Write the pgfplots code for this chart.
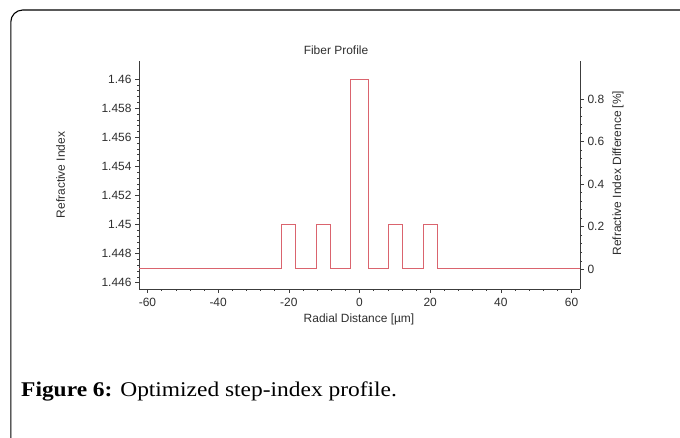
\documentclass[border=0pt]{standalone}
\usepackage{pgfplots}
\pgfplotsset{compat=1.18}
\usepackage{fontspec}
\setmainfont{Liberation Sans}
\newfontfamily\capfont{Liberation Serif}
\definecolor{prof}{RGB}{218,100,110}
\definecolor{axgray}{RGB}{60,60,60}
\begin{document}
\begin{tikzpicture}
\useasboundingbox (0bp,0bp) rectangle (680bp,438bp);
\begin{scope}
\clip (0bp,0bp) rectangle (680bp,438bp);
\draw[line width=1.1bp, rounded corners=12bp] (10.8bp,428bp) rectangle (700bp,-20bp);
\end{scope}
\pgfplotsset{
  myaxis/.style={
    at={(139bp,149bp)}, anchor=south west, scale only axis,
    width=441bp, height=228bp,
    xmin=-62.4, xmax=62.4,
    tick align=outside,
    major tick length=4bp, minor tick length=2bp,
    every tick/.style={color=axgray, line width=0.5bp},
    axis line style={color=axgray, line width=0.6bp, -},
    ticklabel style={font=\fontsize{12}{14}\selectfont, text=black!82},
  }
}
\begin{axis}[myaxis,
  ymin=1.44557, ymax=1.46124,
  axis x line*=bottom, axis y line*=left,
  xtick={-60,-40,-20,0,20,40,60},
  xticklabels={-60,-40,-20,0,20,40,60},
  ytick={1.446,1.448,1.450,1.452,1.454,1.456,1.458,1.460},
  yticklabels={1.446,1.448,1.45,1.452,1.454,1.456,1.458,1.46},
  minor x tick num=4, minor y tick num=4,
  xticklabel style={yshift=-1.5bp},
]
\addplot[prof, line width=0.7bp, line join=miter] coordinates {
(-62.4,1.447) (-22,1.447) (-22,1.450) (-18.05,1.450) (-18.05,1.447)
(-12.15,1.447) (-12.15,1.450) (-8.25,1.450) (-8.25,1.447)
(-2.5,1.447) (-2.5,1.460) (2.5,1.460) (2.5,1.447)
(8.25,1.447) (8.25,1.450) (12.15,1.450) (12.15,1.447)
(18.05,1.447) (18.05,1.450) (22,1.450) (22,1.447) (62.4,1.447)
};
\end{axis}
\begin{axis}[myaxis,
  ymin=-0.0925, ymax=0.978,
  axis x line=none, axis y line*=right,
  ytick={0,0.2,0.4,0.6,0.8},
  yticklabels={0,0.2,0.4,0.6,0.8},
  minor y tick num=4,
]
\end{axis}
\node[font=\fontsize{12}{14}\selectfont, text=black!82] at (336bp,387.3bp) {Fiber Profile};
\node[font=\fontsize{12}{14}\selectfont, text=black!82, rotate=90] at (60.7bp,263bp) {Refractive Index};
\node[font=\fontsize{12}{14}\selectfont, text=black!82, rotate=90] at (618bp,265bp) {Refractive Index Difference [\%]};
\node[font=\fontsize{12}{14}\selectfont, text=black!82] at (359bp,118.5bp) {Radial Distance [µm]};
\node[anchor=base west, font=\fontsize{21}{24}\selectfont\capfont, inner sep=0pt] at (21bp,41bp) {\scalebox{1.12}[1]{\textbf{Figure 6:} Optimized step-index profile.}};
\end{tikzpicture}
\end{document}
